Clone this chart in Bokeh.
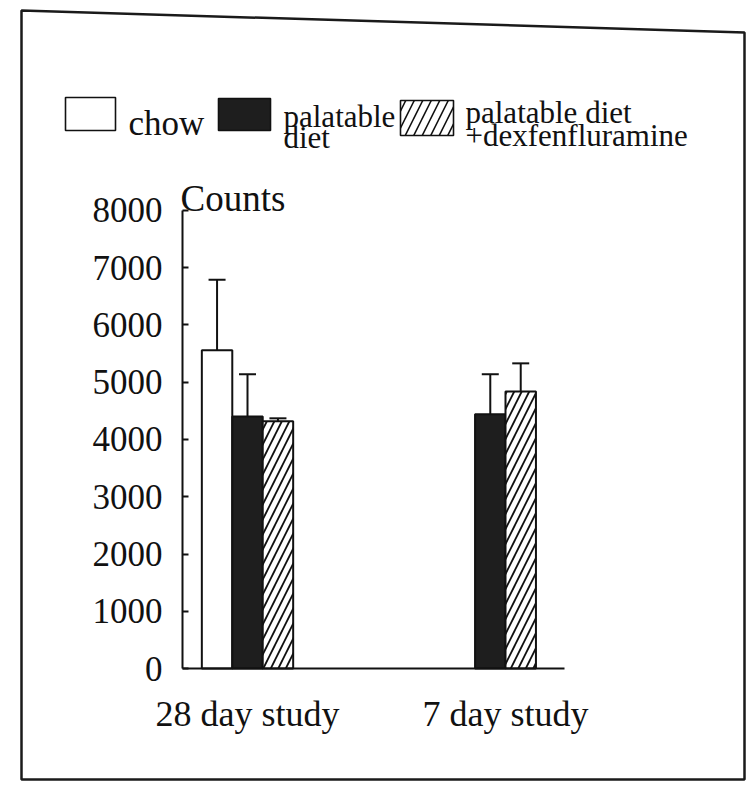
from bokeh.plotting import figure
from bokeh.models import (ColumnDataSource, FixedTicker, Whisker, TeeHead, Label,
                          PolyAnnotation, Range1d, LinearAxis)
from bokeh.embed import file_html
from bokeh.resources import INLINE

# Locomotor activity counts by study and diet group
studies = ["28 day study", "7 day study"]
groups = ["chow", "palatable diet", "palatable diet +dexfenfluramine"]
means = {
    "chow": [5560, None],
    "palatable diet": [4400, 4440],
    "palatable diet +dexfenfluramine": [4320, 4840],
}
sems = {
    "chow": [1230, None],
    "palatable diet": [740, 700],
    "palatable diet +dexfenfluramine": [50, 490],
}
y_ticks = [0, 1000, 2000, 3000, 4000, 5000, 6000, 7000, 8000]

# legend text, one entry per line of each key
legend_lines = {
    "chow": ["chow"],
    "palatable diet": ["palatable", "diet"],
    "palatable diet +dexfenfluramine": ["palatable diet", "+dexfenfluramine"],
}

FONT = "Liberation Serif"
INK = "#111111"
DARK = "#1e1e1e"
styles = {
    "chow": dict(fill_color="white", hatch_pattern=None),
    "palatable diet": dict(fill_color=DARK, hatch_pattern=None),
    "palatable diet +dexfenfluramine": dict(fill_color="white", hatch_pattern="/"),
}
bar_w = 0.118

W, H = 747, 788
# the frame fills the page; axes sit at fixed data locations inside it
X0, X1 = 0.0426, 2.938
Y0, Y1 = -2096, 11668
AXIS_X = 0.748
AXIS_END = 2.229


def page_x(px):
    """page pixel column -> data x"""
    return X0 + px / W * (X1 - X0)


def page_y(py):
    """page pixel row (from top) -> data y"""
    return Y1 - py / H * (Y1 - Y0)


p = figure(width=W, height=H, output_backend="svg", toolbar_location=None,
           x_range=Range1d(X0, X1), y_range=Range1d(Y0, Y1),
           min_border=0, x_axis_type=None, y_axis_type=None)
p.outline_line_color = None
p.grid.visible = False
p.background_fill_color = "white"
p.border_fill_color = "white"

# centre the bars present in each study around the study position
for gi, study in enumerate(studies):
    present = [g for g in groups if means[g][gi] is not None]
    n = len(present)
    for k, g in enumerate(present):
        xpos = gi + 1 + (k - (n - 1) / 2) * bar_w
        src = ColumnDataSource(dict(x=[xpos], top=[means[g][gi]],
                                    upper=[means[g][gi] + sems[g][gi]]))
        p.vbar(x="x", top="top", bottom=0, width=bar_w, source=src,
               line_color=INK, line_width=2, hatch_color=INK,
               hatch_scale=15, hatch_weight=1.8, **styles[g])
        p.add_layout(Whisker(source=src, base="x", lower="top", upper="upper",
                             line_color=INK, line_width=2, lower_head=None,
                             upper_head=TeeHead(size=17, line_color=INK,
                                                line_width=2)))

# key swatches (left, right, top, bottom in page pixels)
swatches = [
    ("chow", (65, 115, 97, 130)),
    ("palatable diet", (218, 270, 98, 130)),
    ("palatable diet +dexfenfluramine", (400, 453, 100, 135)),
]
for g, (l, r, t, b) in swatches:
    p.quad(left=[page_x(l)], right=[page_x(r)], top=[page_y(t)],
           bottom=[page_y(b)], fill_color=styles[g]["fill_color"],
           hatch_pattern=styles[g]["hatch_pattern"], hatch_color=INK,
           hatch_scale=17, hatch_weight=1.6, line_color=INK, line_width=1.6)

yaxis = LinearAxis(fixed_location=AXIS_X, bounds=(0, 8000),
                   ticker=FixedTicker(ticks=y_ticks))
yaxis.major_tick_in = 6
yaxis.major_tick_out = 0
yaxis.minor_tick_line_color = None
yaxis.axis_line_width = 2
yaxis.axis_line_color = INK
yaxis.major_tick_line_width = 2
yaxis.major_tick_line_color = INK
yaxis.major_label_text_font = FONT
yaxis.major_label_text_font_size = "35px"
yaxis.major_label_text_color = INK
yaxis.major_label_standoff = 20
p.add_layout(yaxis, "left")

xaxis = LinearAxis(fixed_location=0, bounds=(AXIS_X, AXIS_END),
                   ticker=FixedTicker(ticks=[1, 2]))
xaxis.major_label_overrides = {1: studies[0], 2: studies[1]}
xaxis.major_tick_line_color = None
xaxis.minor_tick_line_color = None
xaxis.axis_line_width = 2
xaxis.axis_line_color = INK
xaxis.major_label_text_font = FONT
xaxis.major_label_text_font_size = "36px"
xaxis.major_label_text_color = INK
xaxis.major_label_standoff = 19
p.add_layout(xaxis, "below")

p.add_layout(Label(x=AXIS_X, y=8000, x_offset=-2, y_offset=12, text="Counts",
                   text_font=FONT, text_font_size="37px",
                   text_color=INK, text_baseline="alphabetic"))

# key captions: left edge and baseline of each line in page pixels
captions = [
    ("chow", 128, [123], "35px"),
    ("palatable diet", 283, [116, 137], "31px"),
    ("palatable diet +dexfenfluramine", 465, [112, 135], "31px"),
]
for g, x, baselines, size in captions:
    for line, yb in zip(legend_lines[g], baselines):
        p.add_layout(Label(x=page_x(x), y=page_y(yb), text=line,
                           text_font=FONT, text_font_size=size,
                           text_color=INK, text_baseline="alphabetic"))

# page border
p.add_layout(PolyAnnotation(xs=[21, 744, 744, 21], ys=[10, 32, 779, 779],
                            xs_units="canvas", ys_units="canvas",
                            fill_alpha=0, line_color="#1a1a1a", line_alpha=1,
                            line_width=2.5))

open("out.html", "w").write(file_html(p, INLINE))
